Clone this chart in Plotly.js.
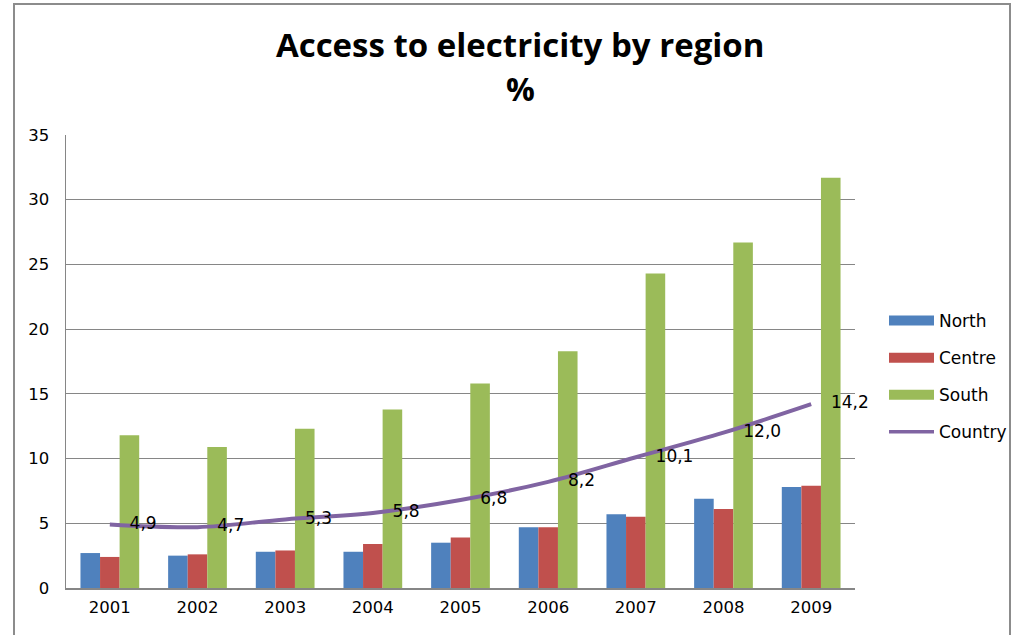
<!DOCTYPE html>
<html>
<head>
<meta charset="utf-8">
<script src="https://cdn.plot.ly/plotly-3.0.1.min.js"></script>
<style>
html,body{margin:0;padding:0;background:#fff;}
#wrap{position:relative;width:1016px;height:635px;}
#chart{width:1016px;height:635px;}
#frame{position:absolute;left:13px;top:3px;width:998px;height:640px;border:2px solid #8c8c8c;pointer-events:none;box-sizing:border-box;}
</style>
</head>
<body>
<div id="wrap">
<div id="chart"></div>
<div id="frame"></div>
</div>
<script>
const years = ["2001","2002","2003","2004","2005","2006","2007","2008","2009"];
const north = [2.7, 2.5, 2.8, 2.8, 3.5, 4.7, 5.7, 6.9, 7.8];
const centre = [2.4, 2.6, 2.9, 3.4, 3.9, 4.7, 5.5, 6.1, 7.9];
const south = [11.8, 10.9, 12.3, 13.8, 15.8, 18.3, 24.3, 26.7, 31.7];
const country = [4.9, 4.7, 5.3, 5.8, 6.8, 8.2, 10.1, 12.0, 14.2];
const countryLabels = ["4,9","4,7","5,3","5,8","6,8","8,2","10,1","12,0","14,2"];
const seriesNames = ["North","Centre","South","Country"];
const seriesColors = ["#4F81BD","#C0504D","#9BBB59","#8064A2"];

const FONT = "'DejaVu Sans', Verdana, sans-serif";
const TFONT = "'Open Sans', Lato, sans-serif";

const traces = [
  {type:"bar", name:seriesNames[0], x:years, y:north, marker:{color:seriesColors[0]}, showlegend:false},
  {type:"bar", name:seriesNames[1], x:years, y:centre, marker:{color:seriesColors[1]}, showlegend:false},
  {type:"bar", name:seriesNames[2], x:years, y:south, marker:{color:seriesColors[2]}, showlegend:false},
  {type:"scatter", mode:"lines+markers+text", name:seriesNames[3], x:years, y:country,
   text:countryLabels, textposition:"middle right",
   textfont:{family:FONT, size:17, color:"#000"},
   marker:{size:30, opacity:0, color:seriesColors[3]},
   line:{color:seriesColors[3], width:4, shape:"spline"}, showlegend:false, cliponaxis:false}
];
// legend entries
for (let i = 0; i < 4; i++) {
  traces.push({type:"scatter", mode:"lines", name:seriesNames[i], x:[null], y:[null],
    line:{color:seriesColors[i], width: i < 3 ? 12 : 3.5}, legendgroup:"g"+i, showlegend:true, hoverinfo:"skip"});
}

const layout = {
  width:1016, height:635,
  margin:{l:66, r:161, t:135, b:47, autoexpand:false},
  paper_bgcolor:"#fff", plot_bgcolor:"#fff",
  font:{family:FONT, size:16.5, color:"#000"},
  title:{text:"<b>Access to electricity by region</b>", x:0.512, xref:"container", xanchor:"center",
         y:1-45/635, yref:"container", yanchor:"middle", font:{family:TFONT, size:33, color:"#000"}},
  annotations:[{text:"<b>%</b>", xref:"paper", yref:"paper", x:(520-66)/789, y:(588-89)/453,
    xanchor:"center", yanchor:"middle", showarrow:false, font:{family:TFONT, size:32, color:"#000"}}],
  barmode:"group", bargap:0.33, bargroupgap:0,
  showlegend:true,
  legend:{x:(884-66)/789, xanchor:"left", y:(588-303)/453, yanchor:"top", traceorder:"grouped", tracegroupgap:12,
          itemwidth:45, font:{family:FONT, size:17, color:"#000"}, bgcolor:"rgba(0,0,0,0)"},
  xaxis:{type:"category", range:[-0.5, 8.5], autorange:false, showgrid:false, showline:true, linecolor:"#868686", linewidth:1.5,
         ticks:"", ticklabelstandoff:4, fixedrange:true},
  yaxis:{range:[0,35], autorange:false, dtick:5, showgrid:true, gridcolor:"#868686", gridwidth:1.2,
         showline:true, linecolor:"#868686", linewidth:1.5, zeroline:false,
         ticks:"", ticklabelstandoff:12, fixedrange:true}
};

Plotly.newPlot("chart", traces, layout, {displayModeBar:false, staticPlot:true});
</script>
</body>
</html>
